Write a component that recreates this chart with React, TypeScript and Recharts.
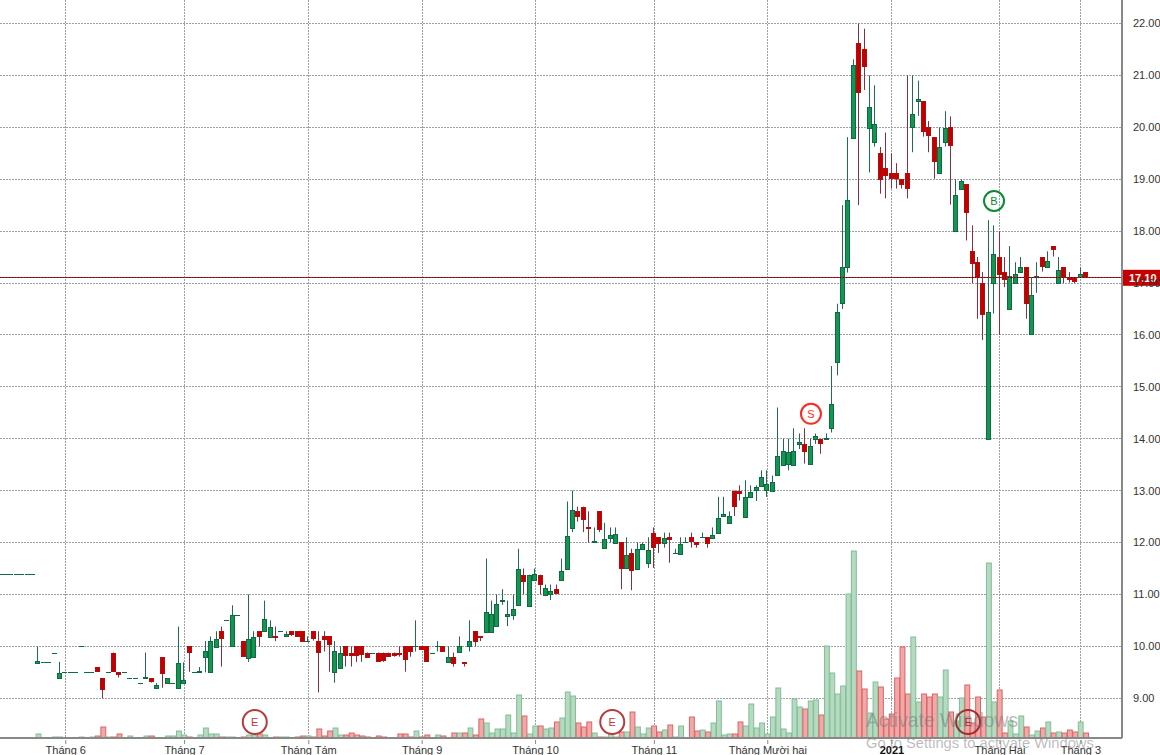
import React from "react";
import {
  Bar,
  CartesianGrid,
  ComposedChart,
  ReferenceDot,
  ReferenceLine,
  XAxis,
  YAxis,
} from "recharts";

const opens = [
  11.4,11.4,11.4,11.4,11.4,11.4,11.4,9.69,9.69,9.69,
  9.88,9.38,9.5,9.5,9.5,10,9.5,9.5,9.6,9.38,
  9.5,9.88,9.5,9.5,9.38,9.38,9.29,9.38,9.38,9.19,
  9.79,9.29,9.29,9.19,9.29,10,9.5,9.5,9.79,9.5,
  10,10.29,10.5,10,10.6,10.1,9.79,9.79,10.29,10.29,
  10.19,10.19,10.29,10.19,10.29,10.29,10.29,10.1,10.29,10.1,
  10.19,10.19,9.49,9.59,10,9.88,10,10,9.88,9.88,
  9.88,9.88,9.88,9.88,9.88,10,10,10,10,10,
  9.88,10,10,9.69,9.79,9.88,9.69,10,10.29,10.19,
  10.29,10.29,10.38,10.88,10.59,10.6,10.79,11.38,10.79,11.29,
  11.38,11,11,11.1,11.29,11.49,12.28,12.6,12.69,12.29,
  12,12.6,11.88,12.1,12,12,11.49,11.79,11.49,11.88,
  11.6,12.19,12.1,11.99,12.1,11.79,11.79,12,12.1,12,
  12.1,12.1,12.1,12.19,12.5,12.38,13,13,12.5,12.88,
  13,13.1,13,13,13.29,13.5,13.5,13.5,13.89,13.89,
  13.5,14,14,14,14.19,15.49,16.6,17.3,19.8,21.62,
  21.5,20,19.71,19.5,19.21,19.12,19.12,19,19.12,20,
  20.5,20.5,20,19.81,19.12,19.71,20,18,18.8,18.9,
  17.61,17.4,17,14,17,17.5,17.21,16.49,17,17.21,
  17.3,16,17.11,17.5,17.3,17.71,17,17.3,17.11,17.11,
  17.11,17.21,
];
const highs = [
  11.4,11.4,11.4,11.4,11.4,11.4,11.4,10,9.69,9.69,
  9.88,9.7,9.5,9.5,9.5,10,9.5,9.5,9.6,9.38,
  9.5,9.88,9.5,9.5,9.38,9.38,9.29,9.88,9.38,9.29,
  9.79,9.38,9.29,10.38,9.69,10,9.5,9.6,10.1,10.19,
  10.29,10.38,10.5,10.79,10.6,10.1,11,10.29,10.29,10.88,
  10.5,10.38,10.29,10.29,10.29,10.29,10.29,10.19,10.29,10.29,
  10.29,10.19,10.1,10,10,10,10,10,9.88,9.88,
  9.88,9.88,9.88,9.88,10,10,10,10.5,10,10,
  9.88,10.1,10,10,9.88,10.19,9.69,10.5,10.29,10.19,
  11.69,10.88,11,11.1,10.88,11,11.88,11.5,11.38,11.5,
  11.38,11.19,11.19,11.19,11.69,12.79,13,12.69,12.69,12.6,
  12.29,12.6,12.38,12.29,12.29,12,12.1,11.88,12,12,
  12.1,12.29,12.1,12.19,12.19,11.88,12.1,12.1,12.19,12,
  12.19,12.1,12.29,12.88,12.88,12.6,13,13.1,13.2,13.1,
  13.1,13.39,13.39,13.29,14.6,14,14,14.2,14.1,14.2,
  14,14.1,14,14.1,15.4,16.6,18.5,19.81,21.31,22,
  21.9,21,20.81,19.62,19.9,19.5,19.31,19,21,21,
  20.9,20.5,20.12,19.81,20,20.31,20.21,19,19,18.9,
  18.11,17.5,17.21,18.21,18.11,18,17.5,17.71,17.4,17.5,
  17.3,17.11,17.4,17.5,17.61,17.71,17.5,17.3,17.21,17.11,
  17.3,17.21,
];
const lows = [
  11.4,11.4,11.4,11.4,11.4,11.4,11.4,9.69,9.69,9.69,
  9.88,9.38,9.5,9.5,9.5,10,9.5,9.5,9.51,9,
  9.5,9.51,9.4,9.5,9.38,9.38,9.29,9.38,9.3,9.19,
  9.2,9.29,9.29,9.19,9.29,9.51,9.5,9.5,9.5,9.5,
  10,9.61,10.5,10,10.6,9.8,9.7,9.79,10,10.29,
  10.19,10.1,10.29,10.19,10.2,10.2,10.1,10.1,10.11,9.11,
  9.9,9.51,9.3,9.59,9.61,9.61,9.7,9.7,9.8,9.88,
  9.7,9.7,9.8,9.8,9.8,9.51,9.8,9.9,9.94,9.7,
  9.88,9.9,9.9,9.69,9.61,9.88,9.61,9.9,10,10.1,
  10.29,10.29,10.38,10.8,10.39,10.51,10.79,11,10.79,11.29,
  11,11,10.89,11.03,11.29,11.49,12.2,12.4,12.2,12,
  12,12.2,11.88,12,12,11.1,11.49,11.08,11.49,11.88,
  11.51,11.51,11.8,11.9,11.61,11.79,11.79,12,11.9,11.9,
  12.1,11.9,12.1,12.19,12.5,12.38,12.51,12.81,12.5,12.88,
  12.8,13.1,12.88,13,13.29,13.5,13.39,13.5,13.8,13.52,
  13.5,13.9,13.71,14,14.12,15.22,16.5,17.2,19.8,18.5,
  20.72,19.13,19.63,18.72,18.63,18.82,18.82,18.82,18.63,19.52,
  20.22,19.82,19.52,19.01,19.12,19.63,18.51,18,18.8,17.82,
  17,16.31,15.9,14,16.41,16,16.92,16.49,17,17.21,
  16.31,16,16.81,17.22,17.3,17.51,17,17,17.01,17,
  17.11,17.1,
];
const closes = [
  11.4,11.4,11.4,11.4,11.4,11.4,11.4,9.72,9.69,9.69,
  9.88,9.48,9.5,9.5,9.5,10,9.5,9.5,9.53,9.17,
  9.5,9.53,9.46,9.5,9.38,9.38,9.29,9.4,9.32,9.25,
  9.49,9.38,9.29,9.67,9.35,9.88,9.5,9.52,9.9,10.1,
  10.15,10.15,10.5,10.6,10.6,9.82,10.15,10.17,10.19,10.52,
  10.38,10.18,10.29,10.23,10.24,10.2,10.1,10.1,10.15,9.88,
  10.13,10.03,9.9,9.87,9.82,9.84,9.82,9.84,9.8,9.88,
  9.72,9.74,9.82,9.84,9.87,9.74,9.9,10,9.94,9.72,
  9.88,10,9.9,9.79,9.67,10,9.67,10.1,10.1,10.17,
  10.67,10.63,10.81,10.9,10.62,10.71,11.48,11.26,11.38,11.4,
  11.21,11.13,11.06,11.03,11.46,12.12,12.63,12.51,12.46,12.28,
  12.02,12.26,12.06,12.15,12.17,11.49,11.75,11.46,11.87,11.98,
  11.85,11.92,11.99,12.08,12.07,11.79,11.98,12,12.03,11.96,
  12.1,11.98,12.15,12.48,12.54,12.52,12.72,12.96,12.88,12.98,
  13.06,13.27,13.12,13.17,13.66,13.77,13.74,13.77,13.93,13.75,
  13.85,14.05,13.92,14.02,14.66,16.45,17.3,18.6,21.21,20.67,
  21.17,20.4,20.06,19,19.07,19.02,19.02,18.9,18.84,20.25,
  20.54,19.92,19.85,19.35,19.62,19.98,19.65,18.69,18.96,18.36,
  17.37,17.11,16.41,16.44,17.55,17.18,17.07,17.13,17.17,17.3,
  16.61,16.76,17.13,17.32,17.42,17.65,17.26,17.11,17.08,17.03,
  17.17,17.11,
];
const volumes = [
  0,0,0,0,0,0,0,4,0,0,
  1,1,0,0,0,1,0,1,2,11,
  1,1,4,0,2,0,0,2,2,0,
  0,2,2,7,3,1,0,3,10,4,
  4,1,1,1,0,1,3,3,4,3,
  0,1,1,1,0,1,2,2,1,9,
  2,7,10,3,3,5,3,2,1,0,
  2,1,0,0,4,4,1,7,1,3,
  0,3,2,0,5,5,5,10,3,19,
  15,5,9,9,23,5,43,22,4,12,
  12,9,10,16,20,46,42,15,11,16,
  5,1,1,4,1,6,6,26,11,4,
  10,12,6,8,13,1,12,0,21,7,
  8,6,15,37,3,4,4,16,12,34,
  10,15,4,21,50,9,5,39,31,29,
  37,38,23,92,65,44,52,144,187,67,
  49,25,56,51,19,24,60,91,44,101,
  36,44,41,44,41,68,26,17,40,53,
  15,41,21,175,36,48,5,17,4,22,
  11,3,7,10,16,5,6,5,8,6,
  16,5,
];

const monthTicks = [12.2, 34.2, 57.2, 78.2, 99.2, 121.2, 142.2, 165.2, 185.2, 200.2];
const monthLabels = [
  "Tháng 6", "Tháng 7", "Tháng Tám", "Tháng 9", "Tháng 10",
  "Tháng 11", "Tháng Mười hai", "2021", "Tháng Hai", "Tháng 3",
];
const priceTicks = [9, 10, 11, 12, 13, 14, 15, 16, 17, 18, 19, 20, 21, 22];
const lastPrice = 17.1;
const signals = [
  { label: "E", at: 47.2, price: 8.54, color: "#b83a3a", r: 12 },
  { label: "E", at: 113.4, price: 8.54, color: "#b83a3a", r: 12 },
  { label: "E", at: 179.3, price: 8.54, color: "#9c2f2f", r: 12 },
  { label: "S", at: 150.2, price: 14.48, color: "#ff2a1f", r: 10 },
  { label: "B", at: 184.1, price: 18.58, color: "#0a8a35", r: 10 },
];

const rows = opens.map((open, i) => ({
  i,
  open,
  high: highs[i],
  low: lows[i],
  close: closes[i],
  volume: volumes[i],
}));

const WIDTH = 1160;
const HEIGHT = 755;
const PLOT_H = 738;
const PRICE_DOMAIN: [number, number] = [8.233, 22.453];
const PPU = PLOT_H / (PRICE_DOMAIN[1] - PRICE_DOMAIN[0]);
const X_DOMAIN: [number, number] = [0.0185, 207.8];
const VOL_SHIFT = 0.2;
const RANGE_EPS = 0.02;
const FONT = "Liberation Sans, Arial, sans-serif";

const Candle = (p: any) => {
  const { x, width, y, payload } = p;
  const up = payload.close >= payload.open;
  const c = Math.round(x + width / 2) + 0.5;
  const py = (v: number) => y + (payload.high + RANGE_EPS - v) * PPU;
  const top = py(Math.max(payload.open, payload.close));
  const bot = py(Math.min(payload.open, payload.close));
  const bodyTop = Math.round(top) + 0.5;
  const bodyH = Math.round(bot - top);
  const edge = up ? "#0b6b42" : "#b50d0d";
  return (
    <g>
      {payload.high > payload.low && (
        <line
          x1={c}
          x2={c}
          y1={py(payload.high)}
          y2={py(payload.low)}
          stroke={up ? "#1f6b54" : "#8a2f40"}
          strokeWidth={1}
        />
      )}
      {bodyH > 0 ? (
        <rect
          x={c - 2}
          y={bodyTop}
          width={4}
          height={bodyH}
          fill={up ? "#149650" : "#c20000"}
          stroke={edge}
          strokeWidth={1}
        />
      ) : (
        <line x1={c - 2.5} x2={c + 2.5} y1={bodyTop} y2={bodyTop} stroke={edge} strokeWidth={1} />
      )}
    </g>
  );
};

const VolumeBar = (p: any) => {
  const { x, width, y, height, payload } = p;
  if (!payload.volume) return null;
  const up = payload.close >= payload.open;
  return (
    <rect
      x={x}
      y={y}
      width={width}
      height={height}
      fill={up ? "#b6d9c0" : "#f0a9a9"}
      stroke={up ? "#7fc097" : "#dc6464"}
      strokeWidth={1}
    />
  );
};

const MonthTick = (p: any) => {
  const { x, y, index } = p;
  const label = monthLabels[index];
  const bold = label === "2021";
  return (
    <g>
      <line x1={x} x2={x} y1={y - 6} y2={y - 2} stroke="#888" />
      <text
        x={x}
        y={y + 7.5}
        textAnchor="middle"
        fontSize={11}
        fontWeight={bold ? 700 : 400}
        fontFamily={FONT}
        fill={bold ? "#111" : "#333"}
      >
        {label}
      </text>
    </g>
  );
};

const signalShape = (s: (typeof signals)[number]) => (p: any) => (
  <g>
    <circle cx={p.cx} cy={p.cy} r={s.r} fill="none" stroke={s.color} strokeWidth={2} />
    <text
      x={p.cx}
      y={p.cy + 4}
      textAnchor="middle"
      fontSize={11}
      fontFamily={FONT}
      fill={s.color}
    >
      {s.label}
    </text>
  </g>
);

const PriceTag = (p: any) => {
  const y = p.viewBox.y;
  return (
    <g>
      <rect x={1122} y={y - 8} width={38} height={16} fill="#c40000" />
      <text x={1129} y={y + 4} fontSize={11} fontWeight={700} fontFamily={FONT} fill="#fff">
        {lastPrice.toFixed(2)}
      </text>
    </g>
  );
};

export default function App() {
  return (
    <div
      style={{
        position: "absolute",
        left: 0,
        top: 0,
        width: WIDTH,
        height: HEIGHT,
        overflow: "hidden",
        background: "#fff",
      }}
    >
      <ComposedChart
        width={WIDTH}
        height={HEIGHT}
        data={rows}
        margin={{ top: 0, right: 0, bottom: 0, left: 0 }}
      >
        <XAxis
          xAxisId="price"
          dataKey="i"
          type="number"
          domain={X_DOMAIN}
          allowDataOverflow
          ticks={monthTicks}
          interval={0}
          height={17}
          tickLine={false}
          axisLine={{ stroke: "#888", strokeWidth: 2 }}
          tick={MonthTick}
        />
        <XAxis
          xAxisId="vol"
          dataKey="i"
          type="number"
          domain={[X_DOMAIN[0] - VOL_SHIFT, X_DOMAIN[1] - VOL_SHIFT]}
          allowDataOverflow
          hide
        />
        <YAxis
          yAxisId="price"
          orientation="right"
          width={38}
          type="number"
          domain={PRICE_DOMAIN}
          allowDataOverflow
          ticks={priceTicks}
          interval={0}
          tickLine={false}
          tickMargin={5}
          axisLine={{ stroke: "#888", strokeWidth: 2 }}
          tick={{ fontSize: 11, fill: "#333", fontFamily: FONT }}
          tickFormatter={(v: number) => v.toFixed(2)}
        />
        <YAxis yAxisId="vol" type="number" domain={[0, PLOT_H]} allowDataOverflow hide />
        <CartesianGrid
          xAxisId="price"
          yAxisId="price"
          stroke="#a0a0a0"
          strokeDasharray="2 1"
          shapeRendering="crispEdges"
          syncWithTicks
        />
        <Bar
          xAxisId="vol"
          yAxisId="vol"
          dataKey="volume"
          barSize={5.4}
          shape={VolumeBar}
          isAnimationActive={false}
        />
        <Bar
          xAxisId="price"
          yAxisId="price"
          dataKey={(d: any) => [d.low, d.high + RANGE_EPS]}
          barSize={5}
          shape={Candle}
          isAnimationActive={false}
        />
        <ReferenceLine
          xAxisId="price"
          yAxisId="price"
          y={lastPrice}
          stroke="#1a1a1a"
          shapeRendering="crispEdges"
        />
        <ReferenceLine
          xAxisId="price"
          yAxisId="price"
          y={lastPrice}
          stroke="#c01212"
          strokeDasharray="2 1"
          shapeRendering="crispEdges"
          label={PriceTag}
        />
        {signals.map((s, i) => (
          <ReferenceDot
            key={i}
            xAxisId="price"
            yAxisId="price"
            x={s.at}
            y={s.price}
            r={s.r}
            shape={signalShape(s)}
          />
        ))}
      </ComposedChart>
      <div
        style={{
          position: "absolute",
          left: 866,
          top: 709,
          fontFamily: FONT,
          color: "rgba(120,120,120,0.5)",
          pointerEvents: "none",
          whiteSpace: "nowrap",
        }}
      >
        <div style={{ fontSize: 19.3, lineHeight: "24px" }}>Activate Windows</div>
        <div style={{ fontSize: 14.7, lineHeight: "20px" }}>Go to Settings to activate Windows.</div>
      </div>
    </div>
  );
}
